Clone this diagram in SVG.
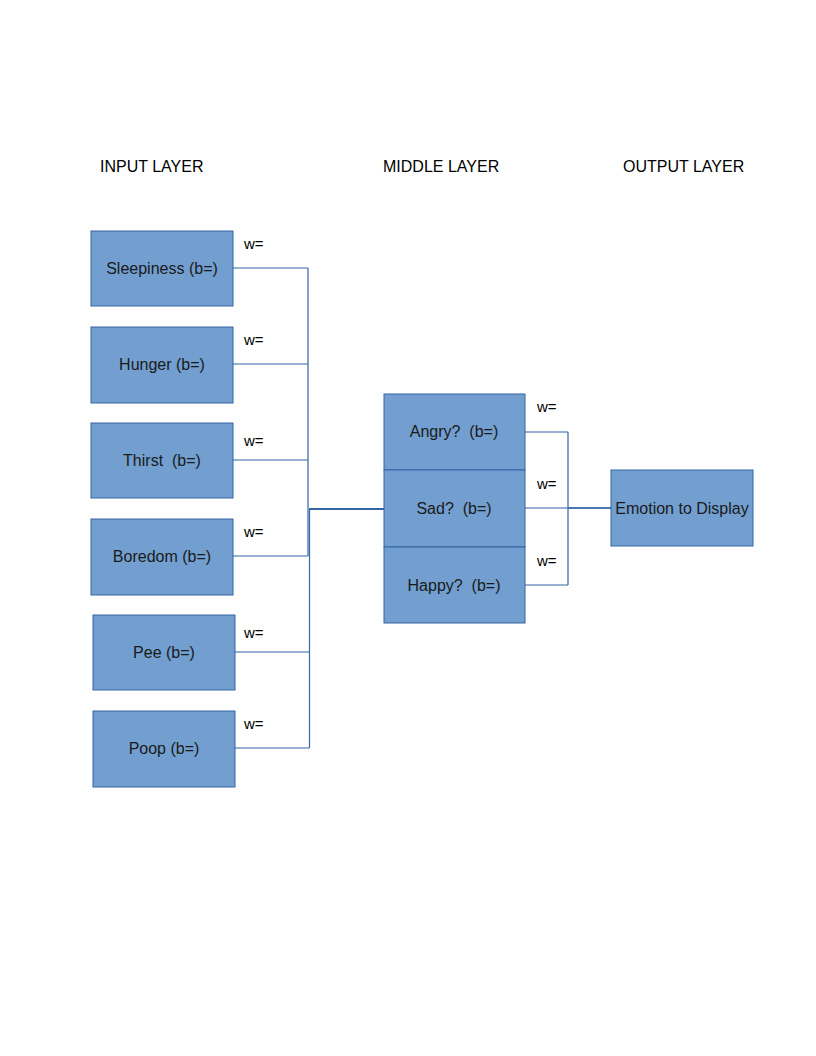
<svg xmlns="http://www.w3.org/2000/svg" width="816" height="1056" viewBox="0 0 816 1056">
<style>
.box{fill:#729fcf;stroke:#3465a4;stroke-width:1}
.t{font-family:"Liberation Sans",Arial,sans-serif;font-size:16px;fill:#1a1a1a}
.c{text-anchor:middle}
.w{font-family:"Liberation Sans",Arial,sans-serif;font-size:15px;fill:#000}
.ln{fill:none;stroke:#3465a4;stroke-width:1.2}
</style>
<rect width="816" height="1056" fill="#fff"/>
<g id="headers">
<text class="t" x="100" y="171.5" style="fill:#000">INPUT LAYER</text>
<text class="t" x="383" y="171.5" style="fill:#000">MIDDLE LAYER</text>
<text class="t" x="623" y="171.5" style="fill:#000">OUTPUT LAYER</text>
</g>
<g id="connectors">
<path class="ln" d="M233,268H308M233,364H308M233,460H308M233,556H308M308,268V556"/>
<path class="ln" d="M235,652H309.5M235,748H309.5M309.5,509V748"/>
<path class="ln" d="M309,509H384" style="stroke-width:2"/>
<path class="ln" d="M525,432H568M525,585H568M568,432V585M525,508H611"/>
<path class="ln" d="M568,508H611" style="stroke-width:1.6"/>
</g>
<g id="weights">
<text class="w" x="244" y="248.5">w=</text>
<text class="w" x="244" y="344.5">w=</text>
<text class="w" x="244" y="445.5">w=</text>
<text class="w" x="244" y="536.5">w=</text>
<text class="w" x="244" y="637.5">w=</text>
<text class="w" x="244" y="728.5">w=</text>
<text class="w" x="537" y="411.5">w=</text>
<text class="w" x="537" y="488.5">w=</text>
<text class="w" x="537" y="565.5">w=</text>
</g>
<g id="sleepiness"><rect class="box" x="91" y="231" width="142" height="75"/><text class="t c" x="162" y="274">Sleepiness (b=)</text></g>
<g id="hunger"><rect class="box" x="91" y="327" width="142" height="76"/><text class="t c" x="162" y="370">Hunger (b=)</text></g>
<g id="thirst"><rect class="box" x="91" y="423" width="142" height="75"/><text class="t c" x="162" y="466" xml:space="preserve">Thirst  (b=)</text></g>
<g id="boredom"><rect class="box" x="91" y="519" width="142" height="76"/><text class="t c" x="162" y="562">Boredom (b=)</text></g>
<g id="pee"><rect class="box" x="93" y="615" width="142" height="75"/><text class="t c" x="164" y="658">Pee (b=)</text></g>
<g id="poop"><rect class="box" x="93" y="711" width="142" height="76"/><text class="t c" x="164" y="754">Poop (b=)</text></g>
<g id="angry"><rect class="box" x="384" y="394" width="141" height="76"/><text class="t c" x="454" y="437" xml:space="preserve">Angry?  (b=)</text></g>
<g id="sad"><rect class="box" x="384" y="470" width="141" height="77"/><text class="t c" x="454" y="514" xml:space="preserve">Sad?  (b=)</text></g>
<g id="happy"><rect class="box" x="384" y="547" width="141" height="76"/><text class="t c" x="454" y="591" xml:space="preserve">Happy?  (b=)</text></g>
<g id="emotion"><rect class="box" x="611" y="470" width="142" height="76"/><text class="t c" x="682" y="514">Emotion to Display</text></g>
</svg>
